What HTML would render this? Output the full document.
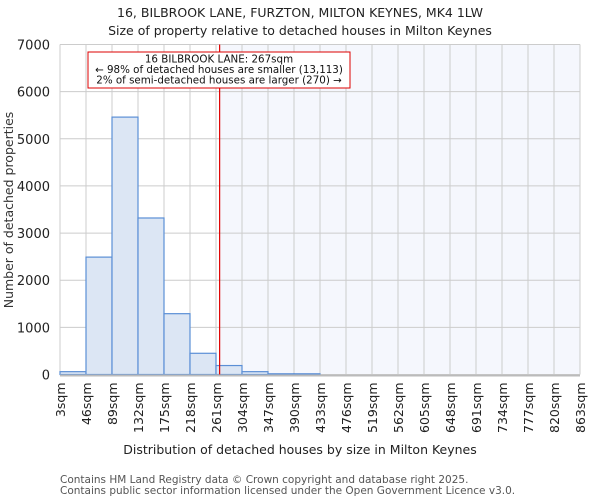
<!DOCTYPE html>
<html><head><meta charset="utf-8"><style>
body{margin:0;background:#fff;font-family:"DejaVu Sans","Liberation Sans",sans-serif}
svg text{font-family:"DejaVu Sans","Liberation Sans",sans-serif}
</style></head><body>
<svg id="c" width="600" height="500" xmlns="http://www.w3.org/2000/svg"></svg>
<script>
const categories=["3sqm","46sqm","89sqm","132sqm","175sqm","218sqm","261sqm","304sqm","347sqm","390sqm","433sqm","476sqm","519sqm","562sqm","605sqm","648sqm","691sqm","734sqm","777sqm","820sqm","863sqm"];
const counts=[60,2490,5460,3320,1290,450,190,60,15,15,0,0,0,0,0,0,0,0,0,0];
const yTicks=[0,1000,2000,3000,4000,5000,6000,7000];
const binStart=3, binStep=43, propertySize=267;
const L=60,R=580,T=44.5,B=374.5,yMax=7000;
const svg=document.getElementById('c');const NS='http://www.w3.org/2000/svg';
const x=v=>L+(v-binStart)/binStep*((R-L)/counts.length);
const y=v=>B-v/yMax*(B-T);
function el(t,a,p){const e=document.createElementNS(NS,t);for(const k in a)e.setAttribute(k,a[k]);(p||svg).appendChild(e);return e;}
function txt(s,a){const e=el('text',a);e.textContent=s;return e;}
let t=txt('16, BILBROOK LANE, FURZTON, MILTON KEYNES, MK4 1LW',{x:300,y:17,'text-anchor':'middle','font-size':12.5,fill:'#222'});


t=txt('Size of property relative to detached houses in Milton Keynes',{x:300,y:35,'text-anchor':'middle','font-size':12.5,fill:'#222'});


let sh=el('rect',{x:x(propertySize),y:T,width:R-x(propertySize),height:B-T,fill:'#f5f7fd'});


yTicks.forEach(v=>{let g=el('line',{x1:L,x2:R,y1:y(v),y2:y(v),stroke:'#ccc'});


let l=txt(String(v),{x:50,y:y(v)+5,'text-anchor':'end','font-size':13,fill:'#222'});

});
categories.forEach((c,i)=>{const xv=x(binStart+i*binStep);
let g=el('line',{x1:xv,x2:xv,y1:T,y2:B,stroke:'#ccc'});


let l=txt(c,{x:0,y:0,transform:`translate(${xv+5},${B+8}) rotate(-90)`,'text-anchor':'end','font-size':12.5,fill:'#222'});

});
counts.forEach((v,i)=>{const x0=x(binStart+i*binStep),x1=x(binStart+(i+1)*binStep);
let r=el('rect',{x:x0,y:y(v),width:x1-x0,height:B-y(v),fill:'#dce6f4',stroke:'#5b8fd6','stroke-width':1.2});

});
let ax=el('line',{x1:L,x2:R,y1:B+1,y2:B+1,stroke:'#bbb','stroke-width':2});


let ml=el('line',{x1:x(propertySize),x2:x(propertySize),y1:T,y2:B,stroke:'#e00000','stroke-width':1.2});


let bx=el('rect',{x:88,y:52,width:262,height:36,fill:'#fff',stroke:'#d00'});


[['16 BILBROOK LANE: 267sqm',62.5],['← 98% of detached houses are smaller (13,113)',73],['2% of semi-detached houses are larger (270) →',83.5]].forEach(([s,yy])=>{
let a=txt(s,{x:219,y:yy,'text-anchor':'middle','font-size':10.3,fill:'#111'});

});
t=txt('Number of detached properties',{x:0,y:0,transform:'translate(13,210) rotate(-90)','text-anchor':'middle','font-size':12.5,fill:'#333'});


t=txt('Distribution of detached houses by size in Milton Keynes',{x:300,y:454,'text-anchor':'middle','font-size':12.5,fill:'#222'});


t=txt('Contains HM Land Registry data © Crown copyright and database right 2025.',{x:60,y:483,'font-size':10.5,fill:'#555'});


t=txt('Contains public sector information licensed under the Open Government Licence v3.0.',{x:60,y:494,'font-size':10.5,fill:'#555'});


</script>
</body></html>
